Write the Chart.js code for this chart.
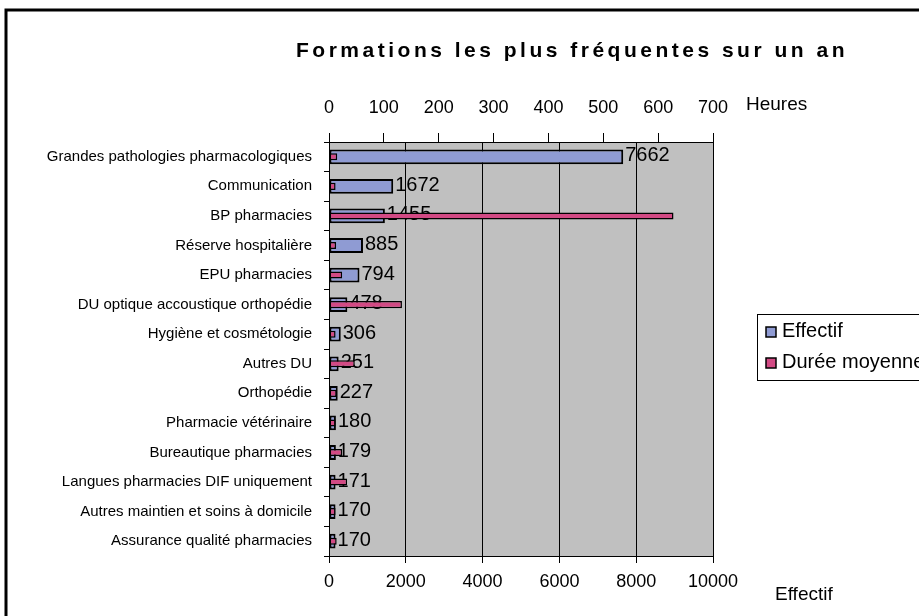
<!DOCTYPE html>
<html>
<head>
<meta charset="utf-8">
<script src="https://cdn.jsdelivr.net/npm/chart.js@4"></script>
<style>
  body { margin: 0; background: #fff; }
  #wrap { width: 919px; height: 616px; position: relative; }
</style>
</head>
<body>
<div id="wrap"><canvas id="formChart"></canvas></div>
<script>
//data
const categories = [
    'Grandes pathologies pharmacologiques',
    'Communication',
    'BP pharmacies',
    'Réserve hospitalière',
    'EPU pharmacies',
    'DU optique accoustique orthopédie',
    'Hygiène et cosmétologie',
    'Autres DU',
    'Orthopédie',
    'Pharmacie vétérinaire',
    'Bureautique pharmacies',
    'Langues pharmacies DIF uniquement',
    'Autres maintien et soins à domicile',
    'Assurance qualité pharmacies'
];
const effectif = [7662, 1672, 1455, 885, 794, 478, 306, 251, 227, 180, 179, 171, 170, 170];
const dureeMoyenne = [15, 12, 628, 13, 24, 133, 12, 47, 14, 12, 24, 33, 12, 14];
const effectifTicks = [0, 2000, 4000, 6000, 8000, 10000];
const heuresTicks = [0, 100, 200, 300, 400, 500, 600, 700];

const FONT = 'Arial, "Liberation Sans", sans-serif';

//chart area box (left/top/right/bottom)
const area = { left: 329, top: 142, right: 713, bottom: 556 };

//gray plot background + outer frame
const backgroundPlugin = {
    id: 'plotBg',
    beforeDraw(chart) {
        const ctx = chart.ctx;
        const a = chart.chartArea;
        ctx.save();
        ctx.fillStyle = '#c0c0c0';
        ctx.fillRect(a.left, a.top, a.right - a.left, a.bottom - a.top);
        ctx.restore();
    },
    afterDraw(chart) {
        const ctx = chart.ctx;
        ctx.save();
        // frame
        ctx.strokeStyle = '#000';
        ctx.lineWidth = 3;
        ctx.beginPath();
        ctx.moveTo(6, 620);
        ctx.lineTo(6, 10);
        ctx.lineTo(925, 10);
        ctx.stroke();

        // title
        ctx.fillStyle = '#000';
        ctx.font = 'bold 21px ' + FONT;
        ctx.textBaseline = 'middle';
        ctx.textAlign = 'center';
        ctx.letterSpacing = '3.5px';
        ctx.fillText('Formations les plus fréquentes sur un an', 572, 51);
        ctx.letterSpacing = '0px';

        // axis titles
        ctx.font = '19px ' + FONT;
        ctx.textAlign = 'left';
        ctx.fillText('Heures', 746, 105);
        ctx.fillText('Effectif', 775, 595);

        // legend
        ctx.lineWidth = 1;
        ctx.strokeStyle = '#000';
        ctx.strokeRect(757.5, 314.5, 180, 66);
        const items = chart.data.datasets;
        items.forEach((ds, i) => {
            const y = 331 + i * 31;
            ctx.fillStyle = ds.backgroundColor;
            ctx.fillRect(766, y - 4, 10, 10);
            ctx.lineWidth = 1.5;
            ctx.strokeRect(766, y - 4, 10, 10);
            ctx.fillStyle = '#000';
            ctx.font = '20px ' + FONT;
            ctx.fillText(ds.label, 782, y);
        });
        ctx.restore();
    }
};

//value labels for effectif, drawn before the pink bars go on top
const valueLabels = {
    id: 'valueLabels',
    afterDatasetDraw(chart, args) {
        if (args.index !== 0) return;
        const ctx = chart.ctx;
        ctx.save();
        ctx.fillStyle = '#000';
        ctx.font = '20px ' + FONT;
        ctx.textAlign = 'left';
        ctx.textBaseline = 'middle';
        args.meta.data.forEach((bar, i) => {
            ctx.fillText(String(effectif[i]), bar.x + 2, bar.y - 1);
        });
        ctx.restore();
    }
};

const formChartMaster = () => {
    var ctx = document.getElementById('formChart').getContext('2d');
    var chart = new Chart(ctx, {
        type: 'bar',
        data: {
            labels: categories,
            datasets: [{
                label: 'Effectif',
                data: effectif,
                xAxisID: 'x',
                backgroundColor: '#8f9bd3',
                borderColor: '#000',
                borderWidth: 2,
                borderSkipped: false,
                barPercentage: 0.5,
                categoryPercentage: 1,
                grouped: false,
                order: 2
            }, {
                label: 'Durée moyenne',
                data: dureeMoyenne,
                xAxisID: 'x2',
                backgroundColor: '#d24a84',
                borderColor: '#000',
                borderWidth: 1.5,
                borderSkipped: false,
                barPercentage: 0.24,
                categoryPercentage: 1,
                grouped: false,
                order: 1
            }]
        },
        options: {
            indexAxis: 'y',
            responsive: true,
            maintainAspectRatio: false,
            animation: false,
            layout: {
                padding: { left: 0, right: 919 - area.right, top: 0, bottom: 0 }
            },
            plugins: {
                legend: { display: false },
                tooltip: { enabled: false },
                title: { display: false }
            },
            scales: {
                y: {
                    type: 'category',
                    position: 'left',
                    grid: { drawOnChartArea: false, tickLength: 5, color: '#000', offset: true },
                    border: { color: '#000', width: 1 },
                    ticks: { color: '#000', font: { family: FONT, size: 15 }, padding: 12, autoSkip: false },
                    afterFit: (scale) => { scale.width = area.left; }
                },
                x: {
                    position: 'bottom',
                    min: 0,
                    max: 10000,
                    afterBuildTicks: (scale) => { scale.ticks = effectifTicks.map(v => ({ value: v })); },
                    grid: { color: '#000', lineWidth: 1, tickLength: 7 },
                    border: { color: '#000', width: 1 },
                    ticks: {
                        color: '#000', font: { family: FONT, size: 18 }, padding: 8, maxRotation: 0,
                        callback: (v) => String(v)
                    },
                    afterFit: (scale) => { scale.height = 616 - area.bottom; }
                },
                x2: {
                    position: 'top',
                    min: 0,
                    max: 700,
                    afterBuildTicks: (scale) => { scale.ticks = heuresTicks.map(v => ({ value: v })); },
                    grid: { drawOnChartArea: false, color: '#000', tickLength: 9 },
                    border: { color: '#000', width: 1 },
                    ticks: {
                        color: '#000', font: { family: FONT, size: 18 }, padding: 14, maxRotation: 0,
                        callback: (v) => String(v)
                    },
                    afterFit: (scale) => { scale.height = area.top; }
                }
            }
        },
        plugins: [backgroundPlugin, valueLabels]
    });
};

formChartMaster()
</script>
</body>
</html>
